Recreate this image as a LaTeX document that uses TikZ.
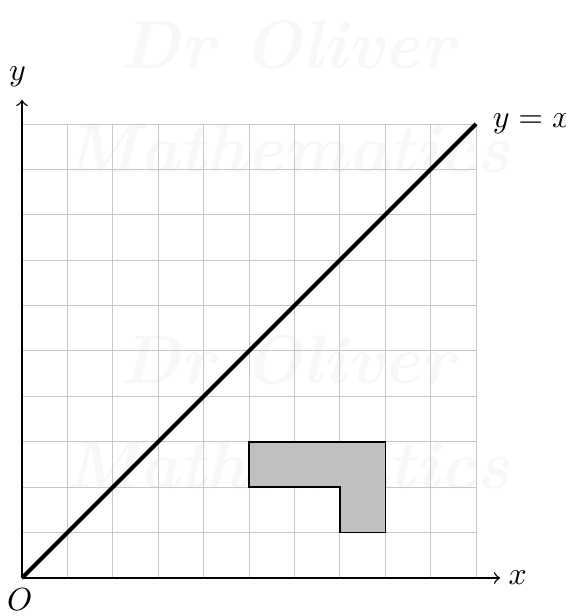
\documentclass[tikz,border=0pt]{standalone}
\begin{document}
\begin{tikzpicture}[x=0.5cm,y=0.5cm,
  gridline/.style={gray!45,line width=0.3pt},
  axisline/.style={->,line width=0.45pt},
  wm/.style={text=black!3,font=\fontsize{21.5}{26}\selectfont\bfseries\itshape}]
\useasboundingbox (-0.485,-0.837) rectangle (11.98,12.73);
% watermark
\node[wm] (w1) at (5.85,11.75) {Dr Oliver};
\node[wm] (w2) at (5.85,9.45) {Mathematics};
\node[wm] (w3) at (5.85,4.8) {Dr Oliver};
\node[wm] (w4) at (5.85,2.5) {Mathematics};
\draw[gridline,step=0.5cm] (0,0) grid (10,10);
\draw[fill=lightgray,line width=0.45pt] (5,3) -- (8,3) -- (8,1) -- (7,1) -- (7,2) -- (5,2) -- cycle;
\coordinate (O) at (0,0);
\coordinate (xe) at (10.53,0);
\coordinate (ye) at (0,10.53);
\coordinate (D) at (10,10);
\draw[axisline] (O) -- (xe);
\draw[axisline] (O) -- (ye);
\draw[line width=1.3pt] (O) -- (D);
\node (xl) at (10.92,0) {$x$};
\node (yl) at (-0.1,11.05) {$y$};
\node[anchor=west] (yx) at (10.12,10) {$y=x$};
\node (ol) at (-0.05,-0.47) {$O$};
\end{tikzpicture}
\end{document}
